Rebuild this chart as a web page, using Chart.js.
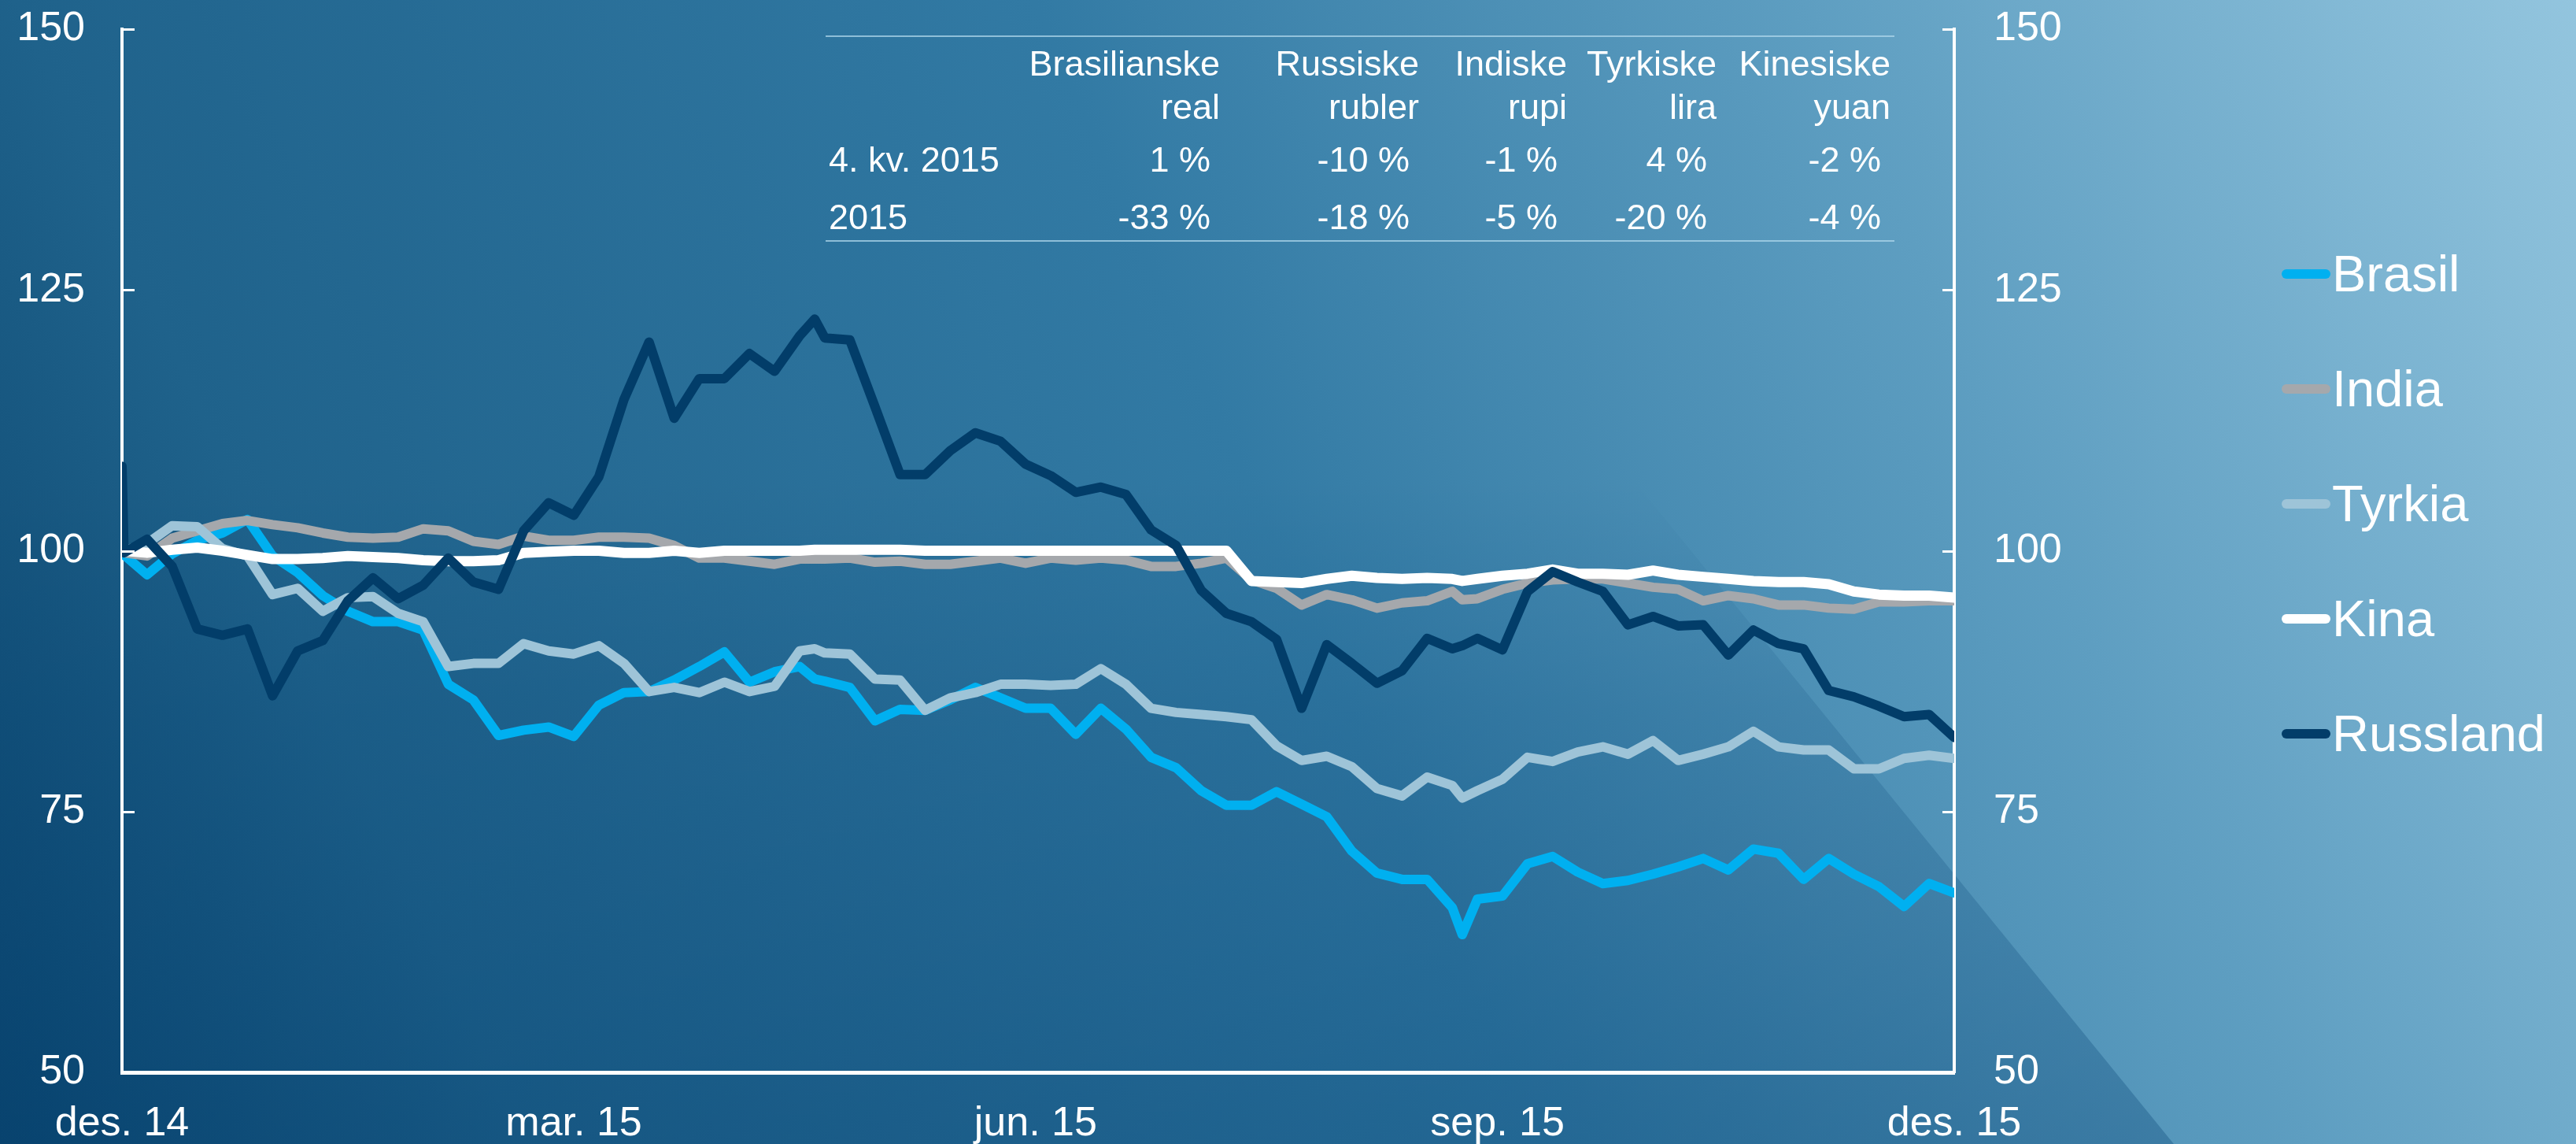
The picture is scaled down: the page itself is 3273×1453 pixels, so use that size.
<!DOCTYPE html>
<html>
<head>
<meta charset="utf-8">
<title>Valutakurser fremvoksende økonomier</title>
<script src="https://cdn.jsdelivr.net/npm/chart.js@4.4.1/dist/chart.umd.min.js"></script>
<style>
  body { margin: 0; overflow: hidden; background: #0a446e; }
  #wrap { position: relative; width: 3273px; height: 1453px; font-family: "Liberation Sans", Arial, sans-serif; color: #fff; }
  #wrap canvas { position: absolute; left: 0; top: 0; }
  .txt { position: absolute; white-space: nowrap; line-height: 1; }
  .rule { position: absolute; height: 2px; background: rgba(175, 215, 235, 0.75); }
  .mark { position: absolute; height: 12px; width: 62px; border-radius: 6px; }
</style>
</head>
<body>
<div id="wrap">
  <canvas id="myChart" width="3273" height="1453"></canvas>
</div>
<script>
// days since 1 Dec 2014
const days = [0, 0.4, 5, 10, 15, 20, 25, 30, 35, 40, 45, 50, 55, 60, 65, 70, 75, 80, 85, 90,
  95, 100, 105, 110, 115, 120, 125, 130, 135, 138, 140, 145, 150, 155, 160, 165, 170, 175,
  180, 185, 190, 195, 200, 205, 210, 215, 220, 225, 230, 235, 240, 245, 250, 255, 260, 265,
  267, 270, 275, 280, 285, 290, 295, 300, 305, 310, 315, 320, 325, 330, 335, 340, 345, 350,
  355, 360, 365];

const brasil = [99.8, 99.6,
  97.7, 99.7, 101.0, 101.7, 103.0, 99.5, 97.9, 95.7, 94.2, 93.2,
  93.2, 92.4, 87.2, 85.7, 82.3, 82.8, 83.1, 82.2, 85.2, 86.4,
  86.5, 87.6, 88.9, 90.3, 87.4, 88.4, 88.9,
  87.7,
  87.5, 86.9, 83.7, 84.8, 84.7, 85.7, 86.9, 85.9, 84.9, 84.9,
  82.4, 84.9, 82.9, 80.2, 79.2, 77.0, 75.6, 75.6, 76.9, 75.7,
  74.5, 71.2, 69.1, 68.5, 68.5, 65.8,
  63.2,
  66.6, 66.9, 70.0, 70.7, 69.2, 68.1, 68.4, 69.0, 69.7, 70.5,
  69.4, 71.4, 71.0, 68.5, 70.5, 69.0, 67.8, 65.9, 68.1, 67.2];

const india = [100.0, 99.8,
  99.5, 101.2, 101.9, 102.6, 102.9, 102.5, 102.2, 101.7, 101.3, 101.2,
  101.3, 102.1, 101.9, 100.9, 100.6, 101.4, 101.0, 101.0, 101.3, 101.3,
  101.2, 100.5, 99.3, 99.3, 99.0, 98.7, 99.2,
  99.2,
  99.2, 99.3, 98.9, 99.0, 98.7, 98.7, 99.0, 99.3, 98.8, 99.3,
  99.1, 99.3, 99.1, 98.5, 98.5, 98.8, 99.3, 97.2, 96.4, 94.8,
  95.8, 95.3, 94.5, 95.0, 95.2, 96.1,
  95.3,
  95.4, 96.3, 96.9, 97.2, 97.3, 97.3, 96.9, 96.5, 96.3, 95.2,
  95.7, 95.4, 94.8, 94.8, 94.5, 94.4, 95.1, 95.1, 95.2, 95.2];

const tyrkia = [100.0, 100.0,
  100.7, 102.4, 102.3, 100.2, 99.5, 95.8, 96.4, 94.2, 95.5, 95.6,
  94.0, 93.2, 88.9, 89.2, 89.2, 91.1, 90.4, 90.1, 90.9, 89.2,
  86.5, 86.9, 86.4, 87.4, 86.5, 87.0, 90.4,
  90.6,
  90.2, 90.1, 87.7, 87.6, 84.7, 85.9, 86.4, 87.2, 87.2, 87.1,
  87.2, 88.7, 87.2, 84.9, 84.5, 84.3, 84.1, 83.8, 81.3, 79.9,
  80.3, 79.3, 77.2, 76.5, 78.3, 77.5,
  76.3,
  77.0, 78.1, 80.2, 79.8, 80.7, 81.2, 80.5, 81.8, 79.9, 80.5,
  81.2, 82.7, 81.2, 80.9, 80.9, 79.1, 79.1, 80.1, 80.4, 80.1];

const kina = [100.0, 100.0,
  99.8, 100.1, 100.3, 100.0, 99.6, 99.2, 99.2, 99.3, 99.5, 99.4,
  99.3, 99.1, 99.0, 99.0, 99.1, 99.8, 99.9, 100.0, 100.0, 99.8,
  99.8, 100.0, 99.8, 100.0, 100.0, 100.0, 100.0,
  100.1,
  100.1, 100.1, 100.1, 100.1, 100.0, 100.0, 100.0, 100.0, 100.0, 100.0,
  100.0, 100.0, 100.0, 100.0, 100.0, 100.0, 100.0, 97.1, 97.0, 96.9,
  97.3, 97.6, 97.4, 97.3, 97.4, 97.3,
  97.1,
  97.3, 97.6, 97.8, 98.2, 97.8, 97.8, 97.7, 98.1, 97.7, 97.5,
  97.3, 97.1, 97.0, 97.0, 96.8, 96.1, 95.8, 95.7, 95.7, 95.5];

const russland = [108.1, 99.8,
  101.1, 98.5, 92.5, 91.9, 92.5, 86.1, 90.4, 91.4, 95.2, 97.4,
  95.4, 96.7, 99.3, 97.0, 96.3, 101.9, 104.6, 103.4, 107.1, 114.5,
  120.0, 112.7, 116.5, 116.5, 118.9, 117.2, 120.6,
  122.2,
  120.4, 120.2, 113.8, 107.3, 107.3, 109.6, 111.3, 110.5, 108.3, 107.2,
  105.6, 106.1, 105.4, 102.0, 100.5, 96.2, 94.0, 93.2, 91.5, 84.9,
  91.0, 89.2, 87.3, 88.5, 91.6, 90.6,
  90.9,
  91.6, 90.5, 96.1, 98.0, 97.0, 96.1, 92.9, 93.7, 92.8, 92.9,
  90.0, 92.4, 91.1, 90.6, 86.6, 86.0, 85.1, 84.1, 84.3, 82.1];

const seriesNames = ['Brasil', 'India', 'Tyrkia', 'Kina', 'Russland'];
const seriesValues = [brasil, india, tyrkia, kina, russland];
const seriesColors = ['#00b0f0', '#a5a8ac', '#9ec4d8', '#ffffff', '#023d69'];

const tickDays = [0, 90, 182, 274, 365];
const tickLabels = ['des. 14', 'mar. 15', 'jun. 15', 'sep. 15', 'des. 15'];
const yTicks = [50, 75, 100, 125, 150];

// table in the top of the chart
const currencyNames = ['Brasilianske', 'Russiske', 'Indiske', 'Tyrkiske', 'Kinesiske'];
const currencyUnits = ['real', 'rubler', 'rupi', 'lira', 'yuan'];
const rowLabels = ['4. kv. 2015', '2015'];
const q4Change = [1, -10, -1, 4, -2];
const yearChange = [-33, -18, -5, -20, -4];

const W = 3273;
const fontFamily = '"Liberation Sans", Arial, sans-serif';
const wrap = document.getElementById('wrap');

function addText(text, x, baseline, size, align) {
    const el = document.createElement('div');
    el.className = 'txt';
    el.textContent = text;
    el.style.fontSize = size + 'px';
    el.style.top = (baseline - size * 0.8465) + 'px';
    if (align === 'right') {
        el.style.right = (W - x) + 'px';
    } else {
        el.style.left = x + 'px';
    }
    wrap.appendChild(el);
}

function addRule(x1, x2, y) {
    const el = document.createElement('div');
    el.className = 'rule';
    el.style.left = x1 + 'px';
    el.style.width = (x2 - x1) + 'px';
    el.style.top = (y - 1) + 'px';
    wrap.appendChild(el);
}

// table
const colRight = [1550, 1803, 1991, 2181, 2402];
addRule(1049, 2407, 46);
addRule(1049, 2407, 306);
for (let i = 0; i < currencyNames.length; i++) {
    addText(currencyNames[i], colRight[i], 96, 45, 'right');
    addText(currencyUnits[i], colRight[i], 151, 45, 'right');
    addText(q4Change[i] + ' %', colRight[i] - 12, 218, 45, 'right');
    addText(yearChange[i] + ' %', colRight[i] - 12, 291, 45, 'right');
}
addText(rowLabels[0], 1053, 218, 45, 'left');
addText(rowLabels[1], 1053, 291, 45, 'left');

// legend
for (let i = 0; i < seriesNames.length; i++) {
    const y = 348 + i * 146;
    const mark = document.createElement('div');
    mark.className = 'mark';
    mark.style.left = '2899px';
    mark.style.top = (y - 6) + 'px';
    mark.style.background = seriesColors[i];
    wrap.appendChild(mark);
    addText(seriesNames[i], 2963, y + 22, 65, 'left');
}

const background = {
    id: 'background',
    beforeDraw(chart) {
        const {ctx, width, height} = chart;
        ctx.save();
        const g = ctx.createLinearGradient(0, height, width, 0);
        g.addColorStop(0, '#0b466f');
        g.addColorStop(0.17, '#1f628b');
        g.addColorStop(0.5, '#327aa4');
        g.addColorStop(0.75, '#5e9ec1');
        g.addColorStop(1, '#93c5de');
        ctx.fillStyle = g;
        ctx.fillRect(0, 0, width, height);

        // darker diagonal panel on the lower left, fading out towards the top
        const shade = ctx.createLinearGradient(0, 0, 0, height);
        shade.addColorStop(0, 'rgba(0, 60, 110, 0)');
        shade.addColorStop(0.42, 'rgba(0, 60, 110, 0)');
        shade.addColorStop(0.62, 'rgba(0, 60, 110, 0.15)');
        shade.addColorStop(1, 'rgba(0, 60, 110, 0.3)');
        ctx.fillStyle = shade;
        ctx.beginPath();
        ctx.moveTo(0, 0);
        ctx.lineTo(1579, 0);
        ctx.lineTo(2762, height);
        ctx.lineTo(0, height);
        ctx.closePath();
        ctx.fill();
        ctx.restore();
    }
};

// short tick marks pointing into the plot on both value axes
const innerTicks = {
    id: 'innerTicks',
    afterDraw(chart) {
        const {ctx, chartArea} = chart;
        const scale = chart.scales.y;
        ctx.save();
        ctx.strokeStyle = '#ffffff';
        ctx.lineWidth = 3;
        for (const v of yTicks) {
            const py = Math.round(scale.getPixelForValue(v)) + 0.5;
            ctx.beginPath();
            ctx.moveTo(chartArea.left, py);
            ctx.lineTo(chartArea.left + 16, py);
            ctx.moveTo(chartArea.right, py);
            ctx.lineTo(chartArea.right - 15, py);
            ctx.stroke();
        }
        ctx.restore();
    }
};

function valueAxis(position, padding, width) {
    return {
        position: position,
        min: 50,
        max: 150,
        afterBuildTicks: (s) => { s.ticks = yTicks.map(v => ({value: v})); },
        afterFit: (s) => {
            s.width = width;
            // keep label padding from pushing the plot area down
            s.paddingTop = 0;
            s.paddingBottom = 0;
        },
        ticks: {
            color: '#ffffff',
            font: {size: 52, family: fontFamily},
            padding: padding
        },
        grid: {display: true, drawOnChartArea: false, drawTicks: false},
        border: {display: true, color: '#ffffff', width: 4}
    };
}

const datasets = seriesNames.map((name, i) => ({
    label: name,
    data: days.map((d, j) => ({x: d, y: seriesValues[i][j]})),
    borderColor: seriesColors[i],
    borderWidth: name === 'Kina' ? 13 : 12,
    pointRadius: 0,
    tension: 0,
    fill: false,
    order: seriesNames.length - i
}));

const myChart = new Chart('myChart', {
    type: 'line',
    data: {datasets: datasets},
    options: {
        responsive: false,
        animation: false,
        devicePixelRatio: 1,
        layout: {padding: {top: 37, left: 0, right: 0, bottom: 0}},
        elements: {line: {borderJoinStyle: 'round', borderCapStyle: 'round'}},
        plugins: {legend: {display: false}, tooltip: {enabled: false}},
        scales: {
            x: {
                type: 'linear',
                min: 0,
                max: 365,
                afterBuildTicks: (s) => { s.ticks = tickDays.map(v => ({value: v})); },
                afterFit: (s) => { s.height = 91; },
                ticks: {
                    color: '#ffffff',
                    font: {size: 52, family: fontFamily},
                    padding: 34,
                    autoSkip: false,
                    maxRotation: 0,
                    callback: (v, i) => tickLabels[i]
                },
                grid: {display: true, drawOnChartArea: false, drawTicks: false},
                border: {display: true, color: '#ffffff', width: 5}
            },
            y: valueAxis('left', 47, 155),
            y2: valueAxis('right', 50, 790)
        }
    },
    plugins: [background, innerTicks]
});
</script>
</body>
</html>
